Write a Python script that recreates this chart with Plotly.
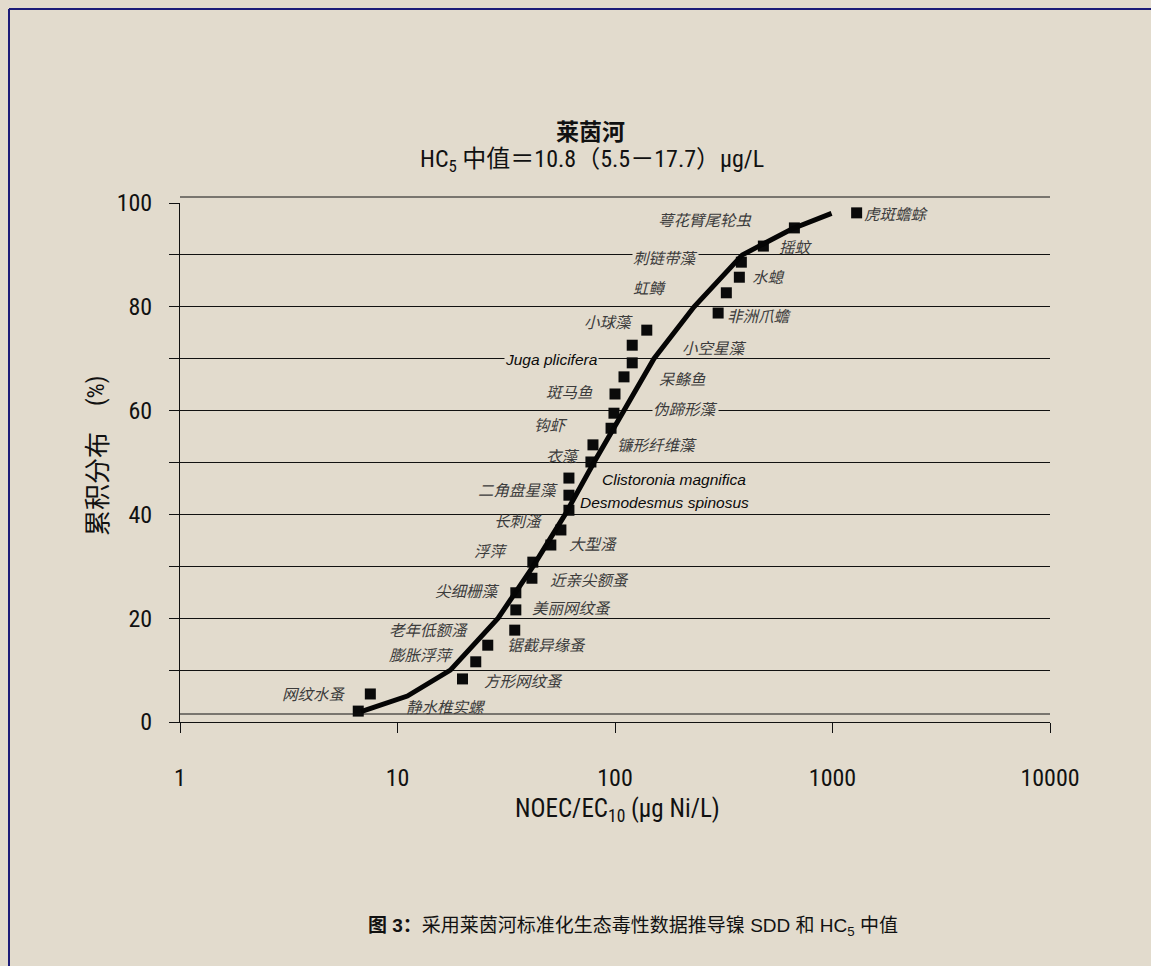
import math
import plotly.graph_objects as go

# ---------------- data ----------------
species = [
    "静水椎实螺", "网纹水蚤", "方形网纹蚤", "膨胀浮萍", "锯截异缘蚤", "老年低额溞",
    "美丽网纹蚤", "尖细栅藻", "近亲尖额蚤", "浮萍", "大型溞", "长刺溞",
    "Desmodesmus spinosus", "二角盘星藻", "Clistoronia magnifica", "衣藻",
    "镰形纤维藻", "钩虾", "伪蹄形藻", "斑马鱼", "呆鲦鱼", "Juga plicifera",
    "小空星藻", "小球藻", "非洲爪蟾", "虹鳟", "水螅", "刺链带藻", "摇蚊",
    "萼花臂尾轮虫", "虎斑蟾蜍",
]
noec = [6.6, 7.5, 19.9, 22.9, 26.0, 34.6, 35.0, 35.0, 41.5, 41.9, 50.7, 56.4,
        61.4, 61.4, 61.4, 77.5, 79.2, 95.9, 98.9, 100, 110, 120, 120, 140,
        298, 325, 373, 381, 481, 668, 1291]
cum_pct = [2.1, 5.4, 8.3, 11.6, 14.8, 17.7, 21.6, 24.9, 27.7, 30.8, 34.1, 37.0,
           40.8, 43.7, 47.0, 50.1, 53.4, 56.6, 59.5, 63.2, 66.5, 69.2, 72.6, 75.5,
           78.8, 82.7, 85.7, 88.6, 91.7, 95.2, 98.1]

fit_x = [6.8, 11.1, 17.5, 29, 42, 59, 80, 110, 151, 231, 385, 650, 990]
fit_y = [2, 5, 10, 20, 30, 40, 50, 60, 70, 80, 90, 95, 98]

x_tick_vals = [1, 10, 100, 1000, 10000]
x_tick_text = ["1", "10", "100", "1000", "10000"]
y_tick_vals = [0, 20, 40, 60, 80, 100]
y_tick_text = ["0", "20", "40", "60", "80", "100"]
y_minor_vals = [10, 30, 50, 70, 90]

title_main = "莱茵河"
title_sub = "HC<sub>5</sub> 中值＝10.8（5.5－17.7）μg/L"
x_title = "NOEC/EC<sub>10</sub> (μg Ni/L)"
y_title_cn = "累积分布"
y_title_unit = "(%)"
caption = "<b>图 3：</b>采用莱茵河标准化生态毒性数据推导镍 SDD 和 HC<sub>5</sub> 中值"

# label placement relative to each point: (anchor, dx px, dy px)
label_place = [
    ("left", 47, 5), ("right", -23, 1), ("left", 20, -1), ("right", -21, 8),
    ("left", 18, 1), ("right", -46, 1), ("left", 15, 3), ("right", -15, 3),
    ("left", 17, -1), ("right", -24, 12), ("left", 17, 2), ("right", -18, 10),
    ("left", 10, 8), ("right", -10, 6), ("left", 32, -1), ("right", -10, 7),
    ("left", 23, 1), ("right", -42, 4), ("left", 38, 5), ("right", -21, 3),
    ("left", 34, -1), ("right", -33, 3), ("left", 49, -2), ("right", -13, 9),
    ("left", 8, -2), ("right", -58, 6), ("left", 12, 1), ("right", -42, 5),
    ("left", 15, 0), ("right", -41, 9), ("left", 6, 0),
]
masked_labels = {"伪蹄形藻", "Juga plicifera", "刺链带藻"}

# ---------------- style ----------------
BG = "rgb(226,219,205)"
NUM_FONT = "Liberation Sans Narrow, Arial Narrow, Roboto Condensed, Roboto, Liberation Sans, sans-serif"
CJK_FONT = "Noto Sans CJK SC, sans-serif"
LAT_FONT = "Liberation Sans, Arial, sans-serif"

W, H = 1151, 966
ML, MR, MT, MB = 180, 101, 203, 244
PW, PH = W - ML - MR, H - MT - MB


def px_to_paper_x(px):
    return (px - ML) / PW


def px_to_paper_y(py):
    return (H - MB - py) / PH


fig = go.Figure()

fig.add_trace(go.Scatter(
    x=noec, y=cum_pct, mode="markers",
    marker=dict(symbol="square", size=11, color="#0a0a0a"),
    hovertext=species, showlegend=False,
))
fig.add_trace(go.Scatter(
    x=fit_x, y=fit_y, mode="lines",
    line=dict(color="#050505", width=5),
    showlegend=False,
))

annotations = []
for name, xv, yv, (anc, dx, dy) in zip(species, noec, cum_pct, label_place):
    is_latin = name[0].isascii()
    annotations.append(dict(
        x=math.log10(xv), y=yv, xref="x", yref="y",
        text=f"<i>{name}</i>", showarrow=False,
        xanchor=anc, yanchor="middle", xshift=dx, yshift=dy,
        font=dict(family=LAT_FONT if is_latin else CJK_FONT,
                  size=15.5,
                  color="#0a0a0a" if is_latin else "#3c3c3c"),
        bgcolor=BG if name in masked_labels else None,
        borderpad=0,
    ))

annotations += [
    dict(text=f"<b>{title_main}</b>", x=px_to_paper_x(590), y=px_to_paper_y(130),
         xref="paper", yref="paper", showarrow=False, xanchor="center", yanchor="middle",
         font=dict(family=CJK_FONT, size=23, color="#111")),
    dict(text=title_sub, x=px_to_paper_x(592), y=px_to_paper_y(161),
         xref="paper", yref="paper", showarrow=False, xanchor="center", yanchor="middle",
         font=dict(family=NUM_FONT + ", " + CJK_FONT, size=24, color="#111")),
    dict(text=x_title, x=px_to_paper_x(617), y=px_to_paper_y(810),
         xref="paper", yref="paper", showarrow=False, xanchor="center", yanchor="middle",
         font=dict(family=NUM_FONT, size=25, color="#111")),
    dict(text=y_title_cn, x=px_to_paper_x(95), y=px_to_paper_y(484),
         xref="paper", yref="paper", showarrow=False, xanchor="center", yanchor="middle",
         textangle=-90,
         font=dict(family=CJK_FONT, size=26, color="#111")),
    dict(text=y_title_unit, x=px_to_paper_x(96), y=px_to_paper_y(391),
         xref="paper", yref="paper", showarrow=False, xanchor="center", yanchor="middle",
         textangle=-90,
         font=dict(family=NUM_FONT, size=24, color="#111")),
    dict(text=caption, x=px_to_paper_x(633), y=px_to_paper_y(927),
         xref="paper", yref="paper", showarrow=False, xanchor="center", yanchor="middle",
         font=dict(family=LAT_FONT + ", " + CJK_FONT, size=19, color="#111")),
]

shapes = [
    # plot-area frame lines (top and bottom)
    dict(type="line", xref="paper", yref="paper", x0=0, x1=1,
         y0=px_to_paper_y(197), y1=px_to_paper_y(197), line=dict(color="#111", width=1)),
    dict(type="line", xref="paper", yref="paper", x0=0, x1=1,
         y0=px_to_paper_y(714), y1=px_to_paper_y(714), line=dict(color="#111", width=1)),
    # page border (navy)
    dict(type="line", xref="paper", yref="paper",
         x0=px_to_paper_x(9), x1=px_to_paper_x(9),
         y0=px_to_paper_y(9), y1=px_to_paper_y(980), line=dict(color="#1c1c78", width=2)),
    dict(type="line", xref="paper", yref="paper",
         x0=px_to_paper_x(9), x1=px_to_paper_x(1170),
         y0=px_to_paper_y(9), y1=px_to_paper_y(9), line=dict(color="#1c1c78", width=2)),
]

fig.update_layout(
    width=W, height=H,
    margin=dict(l=ML, r=MR, t=MT, b=MB, pad=0),
    paper_bgcolor=BG, plot_bgcolor=BG,
    annotations=annotations, shapes=shapes,
    showlegend=False,
)
fig.update_xaxes(
    type="log", range=[0, 4],
    tickvals=x_tick_vals, ticktext=x_tick_text,
    ticks="outside", ticklen=10, tickwidth=1, tickcolor="#111",
    showline=True, linecolor="#111", linewidth=1,
    showgrid=False, zeroline=False,
    ticklabelstandoff=24,
    tickfont=dict(family=NUM_FONT, size=24, color="#111"),
)
fig.update_yaxes(
    range=[0, 100],
    tickvals=y_tick_vals, ticktext=y_tick_text,
    ticks="outside", ticklen=10, tickwidth=1, tickcolor="#111",
    showline=True, linecolor="#111", linewidth=1,
    showgrid=True, gridcolor="#111", gridwidth=1, zeroline=False,
    minor=dict(tickvals=y_minor_vals, ticks="outside", ticklen=10, tickwidth=1,
               tickcolor="#111", showgrid=True, gridcolor="#111", gridwidth=1),
    ticklabelstandoff=12,
    tickfont=dict(family=NUM_FONT, size=24, color="#111"),
)

fig.write_html("out.html", config={"displayModeBar": False},
               post_script="document.body.style.margin='0';")
